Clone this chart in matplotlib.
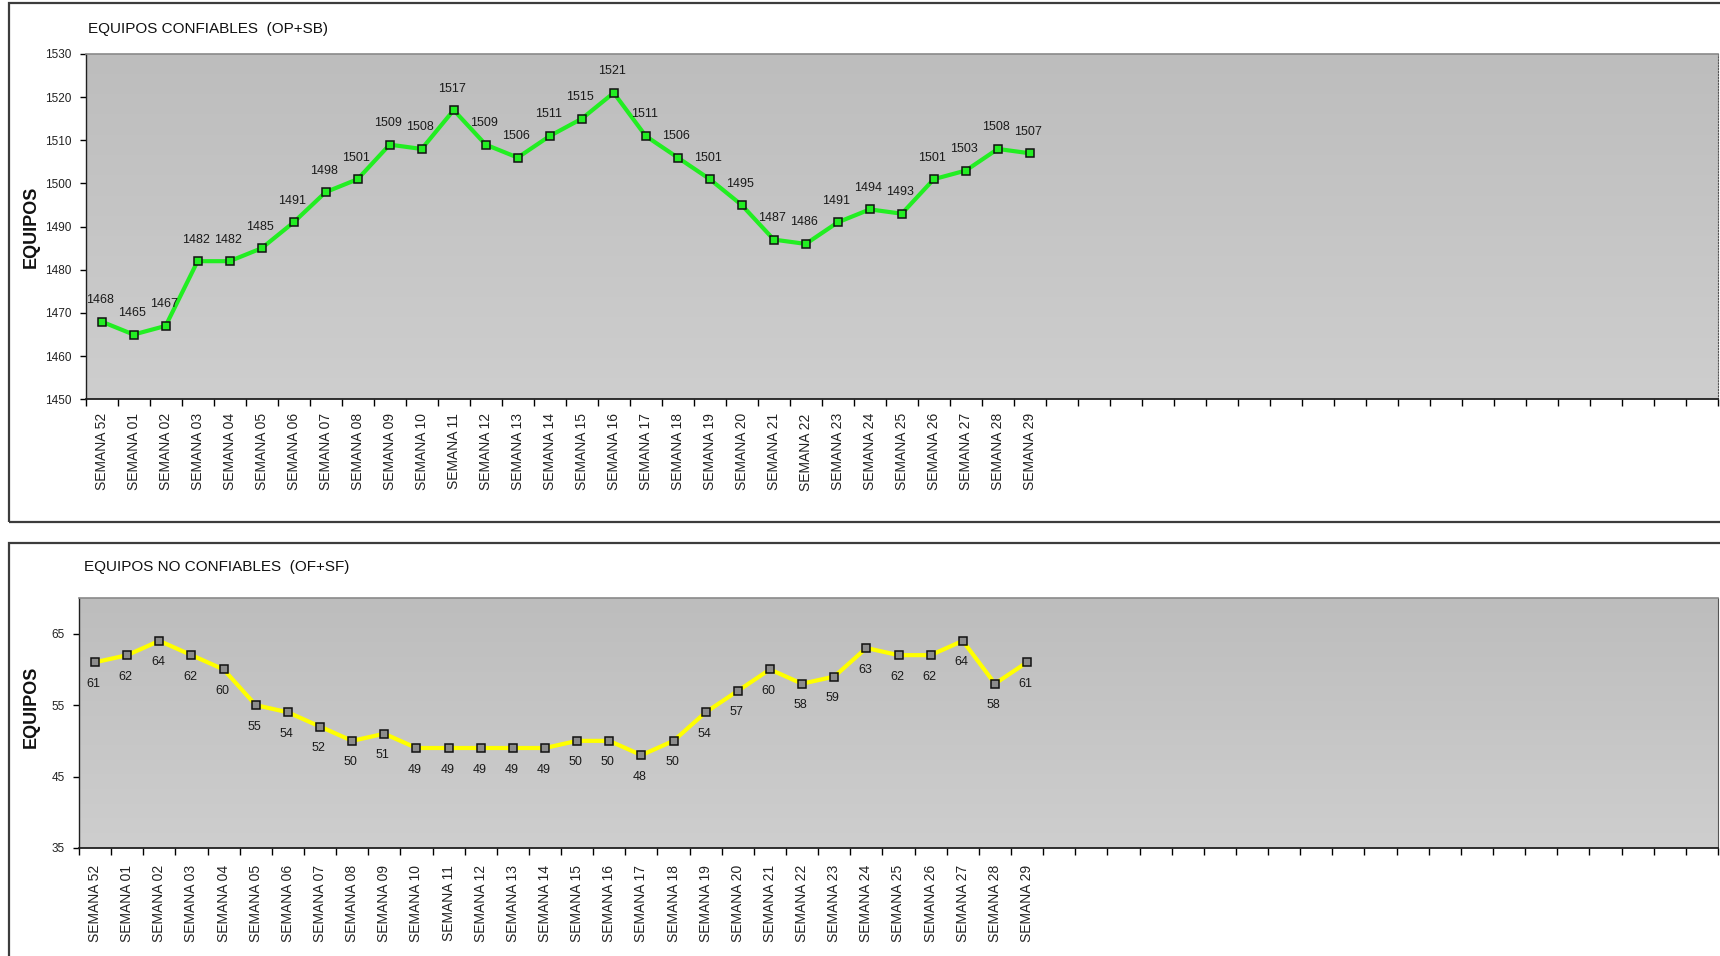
import numpy as np
import matplotlib.pyplot as plt
from matplotlib.patches import Rectangle
from matplotlib.colors import LinearSegmentedColormap

# category labels (only the first 30 weeks carry data)
semanas = ['SEMANA 52', 'SEMANA 01', 'SEMANA 02', 'SEMANA 03', 'SEMANA 04',
           'SEMANA 05', 'SEMANA 06', 'SEMANA 07', 'SEMANA 08', 'SEMANA 09',
           'SEMANA 10', 'SEMANA 11', 'SEMANA 12', 'SEMANA 13', 'SEMANA 14',
           'SEMANA 15', 'SEMANA 16', 'SEMANA 17', 'SEMANA 18', 'SEMANA 19',
           'SEMANA 20', 'SEMANA 21', 'SEMANA 22', 'SEMANA 23', 'SEMANA 24',
           'SEMANA 25', 'SEMANA 26', 'SEMANA 27', 'SEMANA 28', 'SEMANA 29']

confiables = [1468, 1465, 1467, 1482, 1482, 1485, 1491, 1498, 1501, 1509,
              1508, 1517, 1509, 1506, 1511, 1515, 1521, 1511, 1506, 1501,
              1495, 1487, 1486, 1491, 1494, 1493, 1501, 1503, 1508, 1507]

no_confiables = [61, 62, 64, 62, 60, 55, 54, 52, 50, 51,
                 49, 49, 49, 49, 49, 50, 50, 48, 50, 54,
                 57, 60, 58, 59, 63, 62, 62, 64, 58, 61]

n_slots = 51  # empty weekly slots continue to the right edge

W, H = 1720, 956
plt.rcParams['font.family'] = ['Liberation Sans', 'DejaVu Sans']

fig = plt.figure(figsize=(W / 100, H / 100), dpi=100)
fig.patch.set_facecolor('white')


def px_rect(x0, y0, x1, y1):
    # pixel box (top-left origin) -> figure fraction rect
    return [x0 / W, 1 - y1 / H, (x1 - x0) / W, (y1 - y0) / H]


def frame(y0, y1):
    r = px_rect(9, y0, W + 20, y1)
    fig.add_artist(Rectangle((r[0], r[1]), r[2], r[3], transform=fig.transFigure,
                             fill=False, lw=1.6, ec='#3c3c3c'))


gray_cmap = LinearSegmentedColormap.from_list('fondo', ['#bdbdbd', '#cecece'])


def panel(rect, values, ylim, yticks, color, mface, dy, pad, right_style):
    ax = fig.add_axes(rect)
    ax.imshow(np.linspace(0, 1, 256).reshape(-1, 1), cmap=gray_cmap, aspect='auto',
              extent=[0, 1, 0, 1], transform=ax.transAxes, zorder=0)
    x = np.arange(len(values))
    ax.plot(x, values, color=color, lw=3, marker='s', ms=5.5, mfc=mface,
            mec='#111111', mew=1.1, zorder=3, solid_joinstyle='round')
    for xi, v in zip(x, values):
        ax.annotate(str(v), (xi, v), xytext=(-1, dy), textcoords='offset points',
                    ha='center', va='center', fontsize=9, color='#1a1a1a', zorder=4)
    ax.set_xlim(-0.5, n_slots - 0.5)
    ax.set_ylim(*ylim)
    ax.set_yticks(yticks)
    ax.tick_params(axis='y', length=4, width=1, labelsize=8.5, labelcolor='#222222', pad=6)
    ax.set_xticks(np.arange(n_slots + 1) - 0.5)
    ax.tick_params(axis='x', which='major', length=5, width=1, direction='out', labelbottom=False)
    ax.set_xticks(np.arange(n_slots), minor=True)
    ax.set_xticklabels(semanas + [''] * (n_slots - len(semanas)), minor=True,
                       rotation=90, fontsize=10, color='#222222')
    ax.tick_params(axis='x', which='minor', length=0, pad=pad)
    ax.spines['bottom'].set_color('#202020')
    ax.spines['bottom'].set_linewidth(1.3)
    ax.spines['left'].set_color('#202020')
    ax.spines['left'].set_linewidth(1.0)
    ax.spines['top'].set_color('#8a8a8a')
    ax.spines['top'].set_linewidth(1.2)
    ax.spines['right'].set_color('#555555')
    ax.spines['right'].set_linestyle(right_style)
    return ax


# top panel
frame(3, 522)
panel(px_rect(85.6, 54, 1718, 399.3), confiables, (1450, 1530), range(1450, 1531, 10),
      '#22ee22', '#22ee22', 15.5, 10, ':')
fig.text(88 / W, 1 - 28.5 / H, 'EQUIPOS CONFIABLES  (OP+SB)', fontsize=11,
         va='center', ha='left', color='#111111')
fig.text(31 / W, 1 - 227 / H, 'EQUIPOS', fontsize=13, fontweight='bold', rotation=90,
         va='center', ha='center', color='#111111')

# bottom panel
frame(543, H + 20)
panel(px_rect(79, 598, 1718, 848), no_confiables, (35, 70), range(35, 66, 10),
      '#ffff00', '#8c8c8c', -15.5, 12, '-')
fig.text(84.5 / W, 1 - 567 / H, 'EQUIPOS NO CONFIABLES  (OF+SF)', fontsize=11,
         va='center', ha='left', color='#111111')
fig.text(31 / W, 1 - 707 / H, 'EQUIPOS', fontsize=13, fontweight='bold', rotation=90,
         va='center', ha='center', color='#111111')

fig.savefig('out.png', dpi=100)
